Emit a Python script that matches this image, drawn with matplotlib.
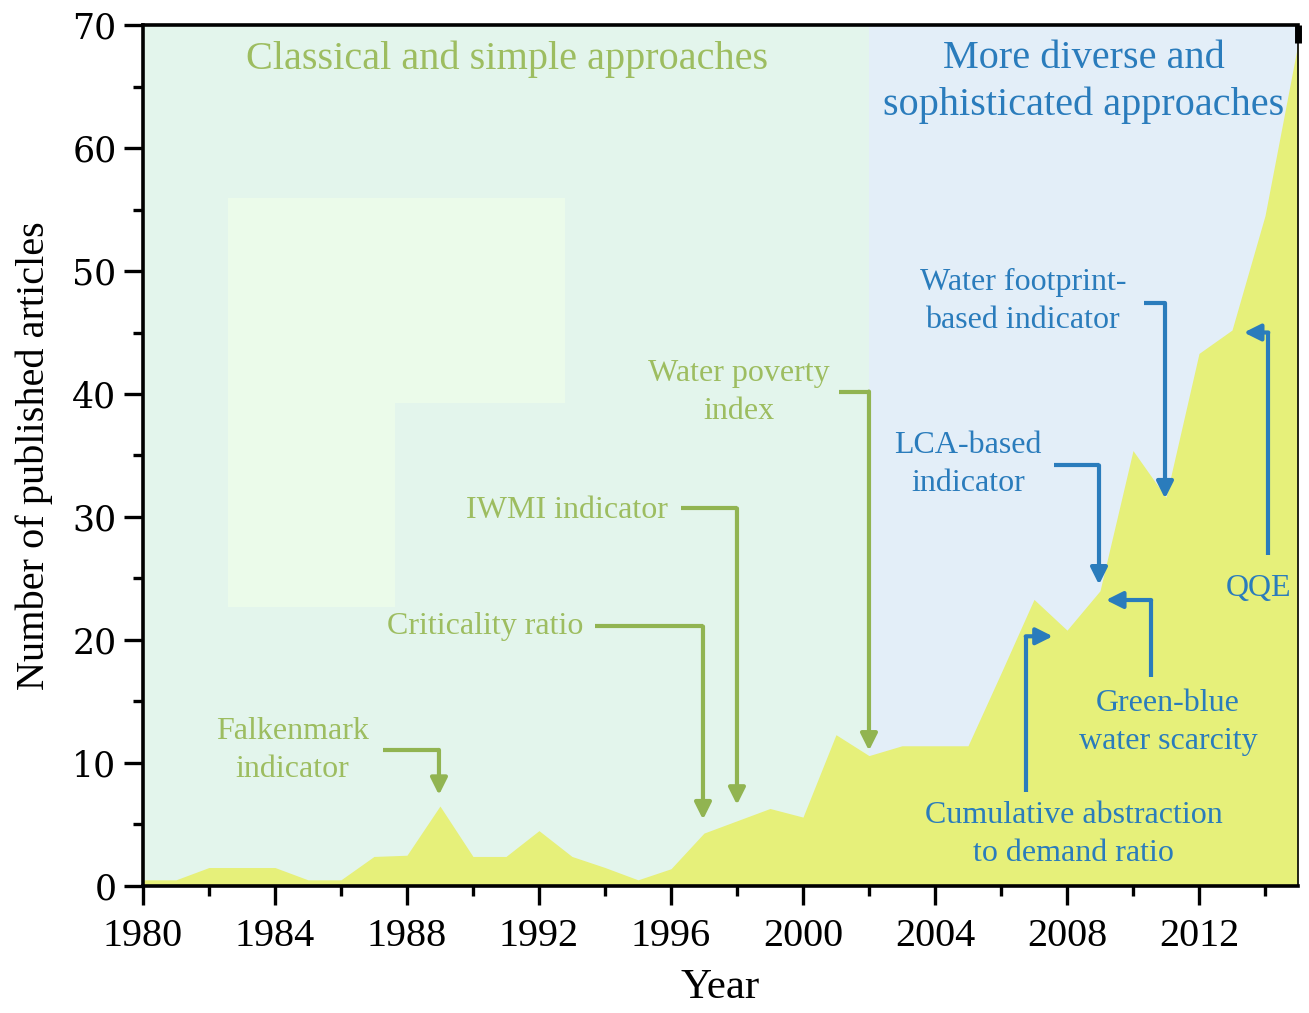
import matplotlib
matplotlib.use("Agg")
import matplotlib.pyplot as plt
from matplotlib.patches import Rectangle
from matplotlib.ticker import MultipleLocator

# ---------------- data ----------------
years = list(range(1980, 2016))
articles = [0.5, 0.5, 1.5, 1.5, 1.5, 0.5, 0.5, 2.4, 2.5, 6.5,
            2.4, 2.4, 4.5, 2.4, 1.5, 0.5, 1.4, 4.3, 5.3, 6.3,
            5.6, 12.3, 10.6, 11.4, 11.4, 11.4, 17.3, 23.3, 20.8, 24.0,
            35.4, 31.6, 43.3, 45.2, 54.5, 68.5]

x_ticks = [1980, 1984, 1988, 1992, 1996, 2000, 2004, 2008, 2012]
y_ticks = [0, 10, 20, 30, 40, 50, 60, 70]

era_split = 2002
era_labels = ["Classical and simple approaches",
              "More diverse and\nsophisticated approaches"]

# annotations: label, text position, text alignment, arrow path (x list, y list)
green_labels = ["Falkenmark\nindicator", "Criticality ratio", "IWMI indicator",
                "Water poverty\nindex"]
green_text_xy = [(1984.52, 11.0), (1993.35, 21.1), (1995.9, 30.5), (1998.05, 40.1)]
green_text_ha = ["center", "right", "right", "center"]
green_paths = [([1987.28, 1988.97, 1988.97], [11.06, 11.06, 7.4]),
               ([1993.7, 1996.97, 1996.97], [21.1, 21.1, 5.4]),
               ([1996.29, 1998.0, 1998.0], [30.7, 30.7, 6.6]),
               ([2001.1, 2002.0, 2002.0], [40.2, 40.2, 11.0])]

blue_labels = ["Water footprint-\nbased indicator", "LCA-based\nindicator", "QQE",
               "Green-blue\nwater scarcity", "Cumulative abstraction\nto demand ratio"]
blue_text_xy = [(2006.66, 47.5), (2005.0, 34.3), (2013.8, 24.2), (2011.06, 13.3), (2008.2, 4.2)]
blue_paths = [([2010.33, 2010.97, 2010.97], [47.4, 47.4, 31.5]),
              ([2007.6, 2008.97, 2008.97], [34.2, 34.2, 24.5]),
              ([2014.1, 2014.1, 2013.36], [26.9, 45.0, 45.0]),
              ([2010.55, 2010.55, 2009.18], [17.0, 23.25, 23.25]),
              ([2006.75, 2006.75, 2007.57], [7.6, 20.3, 20.3])]

# ---------------- style ----------------
GREEN_BG = "#e3f5ec"
BLUE_BG = "#e3eef8"
PALE = "#ebfbea"
FILL = "#e6f07a"
GREEN_TXT = "#9dbd60"
GREEN_ARR = "#91b451"
BLUE_TXT = "#2a7cbc"
SERIF = ["Liberation Serif", "DejaVu Serif"]

fig = plt.figure(figsize=(13.09, 10.13), dpi=100)
ax = fig.add_axes([0.1092, 0.1254, 0.8824, 0.8499])
ax.set_xlim(1980, 2015)
ax.set_ylim(0, 70)

ax.axvspan(1980, era_split, color=GREEN_BG, zorder=0, lw=0)
ax.axvspan(era_split, 2015, color=BLUE_BG, zorder=0, lw=0)
ax.add_patch(Rectangle((1982.58, 22.7), 5.06, 33.2, color=PALE, lw=0, zorder=0.5))
ax.add_patch(Rectangle((1987.64, 39.3), 5.16, 16.6, color=PALE, lw=0, zorder=0.5))

ax.fill_between(years, articles, 0, color=FILL, lw=0, zorder=1)
ax.vlines(years[-1], articles[-1], 70, color="black", lw=5, zorder=6, clip_on=False)

# era labels
ax.text(1991.04, 67.2, era_labels[0], color=GREEN_TXT, fontsize=29, family=SERIF,
        ha="center", va="center", zorder=4)
ax.text(2008.5, 65.4, era_labels[1], color=BLUE_TXT, fontsize=29, family=SERIF,
        ha="center", va="center", zorder=4, linespacing=1.33)


def draw_path(xs, ys, color):
    ax.plot(xs[:-1], ys[:-1], color=color, lw=3, solid_capstyle="butt", zorder=3)
    ax.annotate("", xy=(xs[-1], ys[-1]), xytext=(xs[-2], ys[-2]),
                arrowprops=dict(arrowstyle="-|>,head_length=1.0,head_width=0.5",
                                color=color, lw=3, shrinkA=0, shrinkB=0), zorder=3)


for lab, (tx, ty), ha, (xs, ys) in zip(green_labels, green_text_xy, green_text_ha, green_paths):
    ax.text(tx, ty, lab, color=GREEN_TXT, fontsize=23, family=SERIF, ha=ha, va="center",
            linespacing=1.4, zorder=4)
    draw_path(xs, ys, GREEN_ARR)

for lab, (tx, ty), (xs, ys) in zip(blue_labels, blue_text_xy, blue_paths):
    ax.text(tx, ty, lab, color=BLUE_TXT, fontsize=23, family=SERIF, ha="center", va="center",
            linespacing=1.4, zorder=4)
    draw_path(xs, ys, BLUE_TXT)

# axes styling
ax.set_xticks(x_ticks)
ax.set_xticklabels([str(v) for v in x_ticks], family=SERIF, fontsize=29)
ax.set_yticks(y_ticks)
ax.set_yticklabels([str(v) for v in y_ticks], family=["DejaVu Serif"], fontsize=25)
ax.xaxis.set_minor_locator(MultipleLocator(2))
ax.yaxis.set_minor_locator(MultipleLocator(5))
ax.tick_params(which="major", direction="out", length=14, width=2.4, pad=5)
ax.tick_params(which="minor", direction="out", length=7, width=2.4)
ax.tick_params(axis="x", which="major", pad=9)
ax.tick_params(axis="x", which="minor", top=False)
for side in ["left", "bottom", "top"]:
    ax.spines[side].set_linewidth(2.6)
ax.spines["right"].set_linewidth(1.2)
for s in ax.spines.values():
    s.set_zorder(5)

ax.set_xlabel("Year", family=SERIF, fontsize=31, labelpad=10)
ax.set_ylabel("Number of published articles", family=SERIF, fontsize=29, labelpad=14)

fig.savefig("out.png", dpi=100)
